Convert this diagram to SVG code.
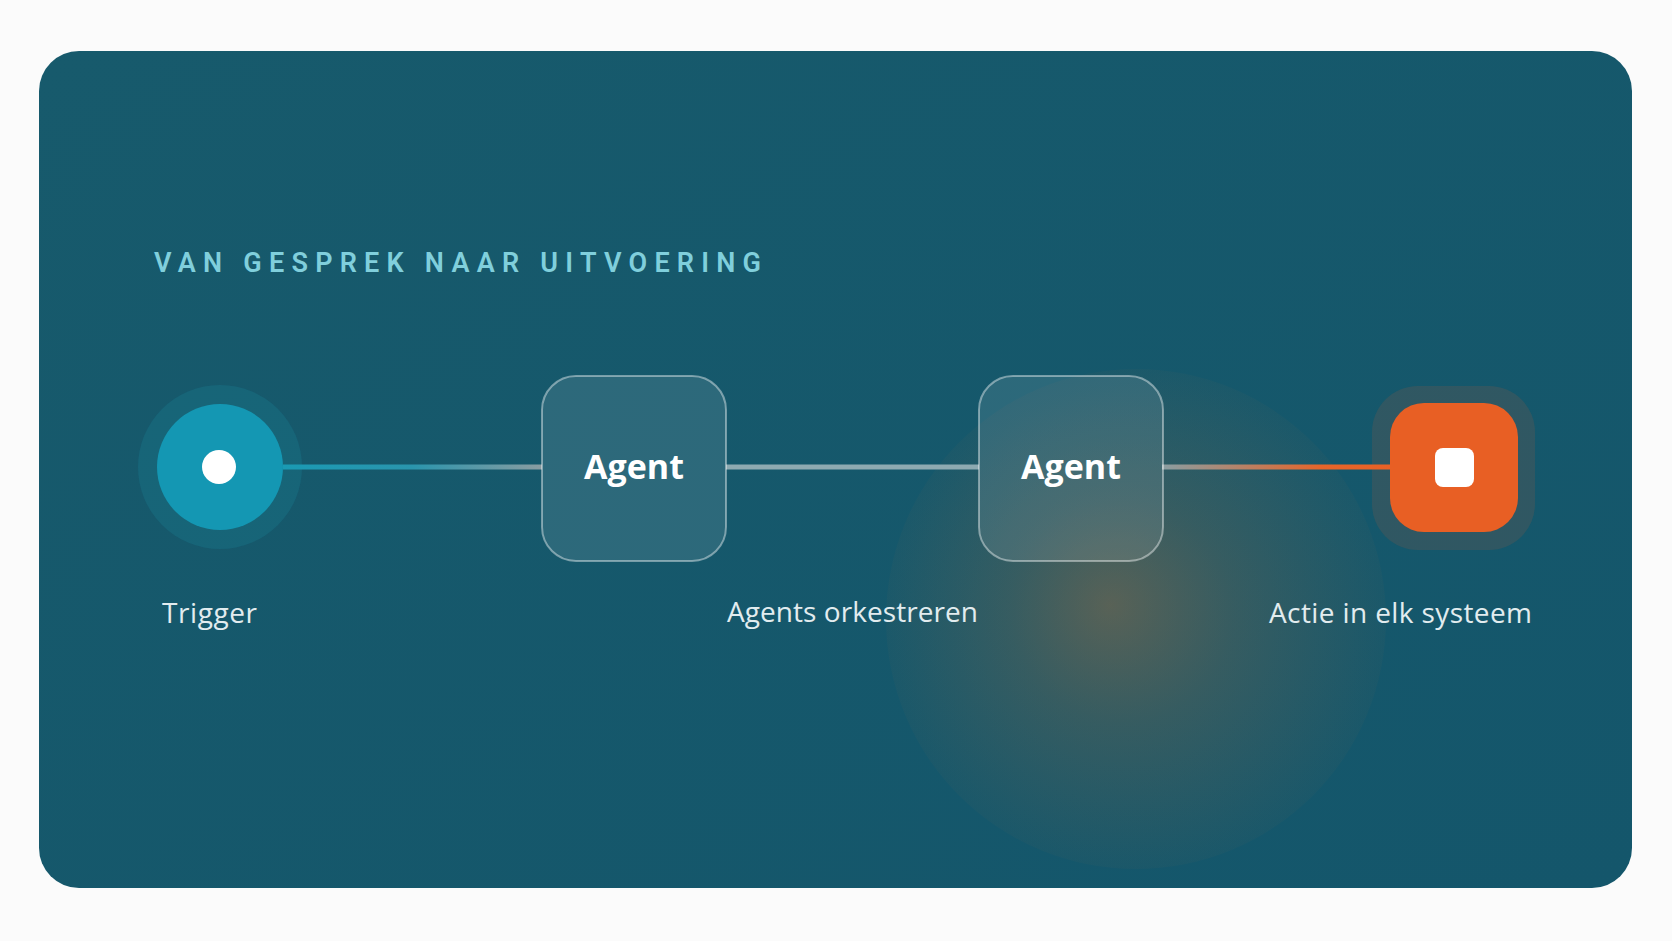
<svg xmlns="http://www.w3.org/2000/svg" width="1672" height="941" viewBox="0 0 1672 941">
  <style>
    .title { font-family: "Roboto", "Liberation Sans", sans-serif; font-weight: 600; font-size: 27px; fill: #80cfdc; }
    .label { font-family: "Open Sans", "Liberation Sans", sans-serif; font-weight: 400; font-size: 28px; fill: #e2ecef; }
    .agent-box { fill: #ffffff; fill-opacity: 0.1; stroke: #ffffff; stroke-opacity: 0.42; stroke-width: 2; }
    .agent-text { font-family: "Open Sans", "Liberation Sans", sans-serif; font-weight: 700; font-size: 34px; fill: #ffffff; text-anchor: middle; }
    .conn { fill: none; stroke-width: 5; }
  </style>
  <defs>
    <linearGradient id="bg" x1="0" y1="0" x2="1" y2="1">
      <stop offset="0" stop-color="#175a6c"/>
      <stop offset="1" stop-color="#14566b"/>
    </linearGradient>
    <radialGradient id="glow" gradientUnits="userSpaceOnUse" cx="1136" cy="619" r="250" fx="1110" fy="605">
      <stop offset="0" stop-color="#e8782a" stop-opacity="0.32"/>
      <stop offset="0.45" stop-color="#d8742e" stop-opacity="0.17"/>
      <stop offset="1" stop-color="#c8763a" stop-opacity="0.035"/>
    </radialGradient>
    <linearGradient id="g1" gradientUnits="userSpaceOnUse" x1="283" y1="0" x2="542" y2="0">
      <stop offset="0" stop-color="#1a9ab4"/>
      <stop offset="0.5" stop-color="#2a95ad"/>
      <stop offset="1" stop-color="#8a9ca1"/>
    </linearGradient>
    <linearGradient id="g3" gradientUnits="userSpaceOnUse" x1="1162" y1="0" x2="1390" y2="0">
      <stop offset="0" stop-color="#8a9ea2"/>
      <stop offset="0.7" stop-color="#e6652a"/>
      <stop offset="1" stop-color="#ea6225"/>
    </linearGradient>
  </defs>

  <rect x="0" y="0" width="1672" height="941" fill="#fbfbfb"/>
  <g id="panel">
    <rect x="39" y="51" width="1593" height="837" rx="40" fill="url(#bg)"/>
    <circle cx="1136" cy="619" r="250" fill="url(#glow)"/>
  </g>

  <g id="title">
    <text class="title" x="154" y="272" textLength="607" lengthAdjust="spacing">VAN GESPREK NAAR UITVOERING</text>
  </g>

  <g id="connectors">
    <line class="conn" x1="283" y1="467" x2="542" y2="467" stroke="url(#g1)"/>
    <line class="conn" x1="726" y1="467" x2="979" y2="467" stroke="#8eaab1"/>
    <line class="conn" x1="1162" y1="467" x2="1390" y2="467" stroke="url(#g3)"/>
  </g>

  <g id="trigger">
    <circle cx="220" cy="467" r="82" fill="#1a9ab4" fill-opacity="0.18"/>
    <circle cx="220" cy="467" r="63" fill="#1497b3"/>
    <circle cx="219" cy="467" r="17" fill="#ffffff"/>
    <text class="label" x="162" y="623" textLength="95" lengthAdjust="spacing">Trigger</text>
  </g>

  <g id="agent1">
    <rect class="agent-box" x="542" y="376" width="184" height="185" rx="34"/>
    <text class="agent-text" x="634" y="479">Agent</text>
  </g>

  <g id="agent2">
    <rect class="agent-box" x="979" y="376" width="184" height="185" rx="34"/>
    <text class="agent-text" x="1071" y="479">Agent</text>
  </g>

  <g id="orkestreren">
    <text class="label" x="727" y="622" textLength="251" lengthAdjust="spacing">Agents orkestreren</text>
  </g>

  <g id="actie">
    <rect x="1372" y="386" width="163" height="164" rx="46" fill="#e85f24" fill-opacity="0.13"/>
    <rect x="1390" y="403" width="128" height="129" rx="34" fill="#e85f24"/>
    <rect x="1435" y="448" width="39" height="39" rx="8" fill="#ffffff"/>
    <text class="label" x="1269" y="623" textLength="263" lengthAdjust="spacing">Actie in elk systeem</text>
  </g>
</svg>
